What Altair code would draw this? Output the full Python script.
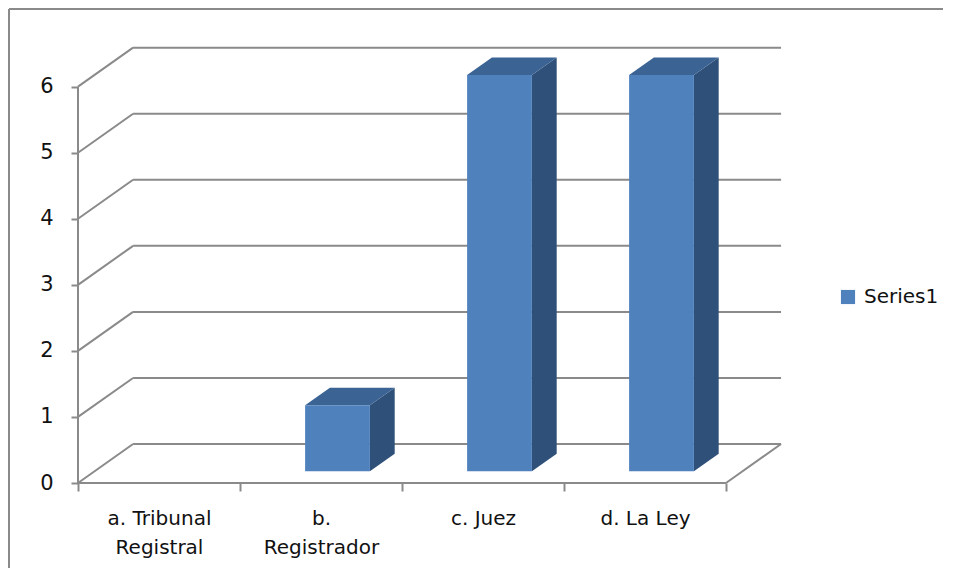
import altair as alt
import pandas as pd

# ---- data ----
categories = ["a. Tribunal Registral", "b. Registrador", "c. Juez", "d. La Ley"]
label_lines = [["a. Tribunal", "Registral"], ["b.", "Registrador"], ["c. Juez"], ["d. La Ley"]]
values = [0, 1, 6, 6]
series_name = "Series1"
y_ticks = [0, 1, 2, 3, 4, 5, 6]

# ---- 3D geometry (in data units) ----
DX, DY = 0.34, 0.59        # full depth of the box
F0, F1 = 0.30, 0.75        # bar front / back depth fractions
BW = 0.40                  # bar width (fraction of band)
N = len(categories)
XMAX = N + DX + 0.012
YMAX = 6.6

GRID = "#8a8a8a"
FRONT = "#4F81BD"
TOP = "#3B6494"
SIDE = "#2F5079"
FONT = "DejaVu Sans"

xs = alt.Scale(domain=[0, XMAX], nice=False, zero=False)
ys = alt.Scale(domain=[0, YMAX], nice=False, zero=False)

# gridlines / wall
grid_rows = []
for v in y_ticks:
    grid_rows.append(dict(x=DX, x2=N + DX, y=v + DY, y2=v + DY))
    grid_rows.append(dict(x=0, x2=DX, y=v, y2=v + DY))
grid_rows.append(dict(x=N, x2=N + DX, y=0, y2=DY))   # floor right edge
grid_rows.append(dict(x=0, x2=N, y=0, y2=0))          # front floor edge
grid_rows.append(dict(x=0, x2=0, y=0, y2=max(y_ticks)))  # front value axis
grid_df = pd.DataFrame(grid_rows)

# bars
front_rows, top_rows, side_rows = [], [], []
for i, (c, v) in enumerate(zip(categories, values)):
    if v <= 0:
        continue
    x0 = i + 0.5 - BW / 2
    x1 = i + 0.5 + BW / 2
    fx, fy = F0 * DX, F0 * DY
    bx, by = F1 * DX, F1 * DY
    front_rows.append(dict(cat=c, series=series_name, value=v,
                           x=x0 + fx, x2=x1 + fx, y=fy, y2=v + fy))
    top_rows.append(dict(cat=c, y=v + fy, x=x0 + fx, x2=x1 + fx))
    top_rows.append(dict(cat=c, y=v + by, x=x0 + bx, x2=x1 + bx))
    side_rows.append(dict(cat=c, x=x1 + fx, y=fy, y2=v + fy))
    side_rows.append(dict(cat=c, x=x1 + bx, y=by, y2=v + by))
front_df = pd.DataFrame(front_rows)
top_df = pd.DataFrame(top_rows)
side_df = pd.DataFrame(side_rows)

# x axis label expression built from label lines
x_label_values = [i + 0.5 for i in range(N)]
expr = "''"
for pos, lines in reversed(list(zip(x_label_values, label_lines))):
    arr = "[" + ",".join("'" + s + "'" for s in lines) + "]"
    expr = f"datum.value == {pos} ? {arr} : ({expr})"

x_axis = alt.Axis(
    values=sorted(list(range(N + 1)) + x_label_values),
    labelExpr=expr, domain=False, grid=False, title=None,
    tickSize=8, tickColor=GRID, tickWidth=2,
    tickOpacity={"condition": {"test": "datum.value % 1 != 0", "value": 0}, "value": 1},
    labelFont=FONT, labelFontSize=20, labelColor="#111111",
    labelPadding=17, labelLineHeight=29, labelAngle=0, labelFlush=False,
    labelOverlap=False,
)
y_axis = alt.Axis(
    values=y_ticks, domain=False, grid=False, title=None,
    tickSize=7, tickColor=GRID, tickWidth=2,
    labelFont=FONT, labelFontSize=21, labelColor="#111111", labelPadding=18,
)

X = alt.X("x:Q", scale=xs, axis=x_axis)
Y = alt.Y("y:Q", scale=ys, axis=y_axis)

grid = alt.Chart(grid_df).mark_rule(color=GRID, strokeWidth=2).encode(
    x=X, x2="x2:Q", y=Y, y2="y2:Q",
)

side = alt.Chart(side_df).mark_area(orient="vertical", fill=SIDE, opacity=1).encode(
    x=X, y=Y, y2="y2:Q", detail="cat:N",
)

top = alt.Chart(top_df).mark_area(orient="horizontal", fill=TOP, opacity=1).encode(
    y=Y, x=X, x2="x2:Q", detail="cat:N",
)

front = alt.Chart(front_df).mark_rect().encode(
    x=X, x2="x2:Q", y=Y, y2="y2:Q",
    color=alt.Color("series:N", scale=alt.Scale(range=[FRONT]),
                    legend=alt.Legend(title=None, orient="none", legendX=760, legendY=240,
                                      symbolType="square", symbolSize=200,
                                      symbolStrokeWidth=0, labelFont=FONT,
                                      labelFontSize=20, labelColor="#111111",
                                      labelOffset=6)),
)

# outer frame (decoration)
frame = alt.Chart(pd.DataFrame({"k": [0]})).mark_rule(color="#8a8a8a", strokeWidth=2).encode(
    x=alt.value(-69), x2=alt.value(880), y=alt.value(-38), y2=alt.value(-38))
frame_l = alt.Chart(pd.DataFrame({"k": [0]})).mark_rule(color="#8a8a8a", strokeWidth=2).encode(
    x=alt.value(-69), x2=alt.value(-69), y=alt.value(-38), y2=alt.value(540))

chart = alt.layer(frame, frame_l, grid, side, top, front).properties(
    width=705, height=436,
    background="white",
    autosize=alt.AutoSizeParams(type="none"),
    padding={"left": 70, "top": 39, "right": 160, "bottom": 85},
).configure_view(stroke=None)

chart.save("out.html", embed_options={"renderer": "svg", "actions": False})
